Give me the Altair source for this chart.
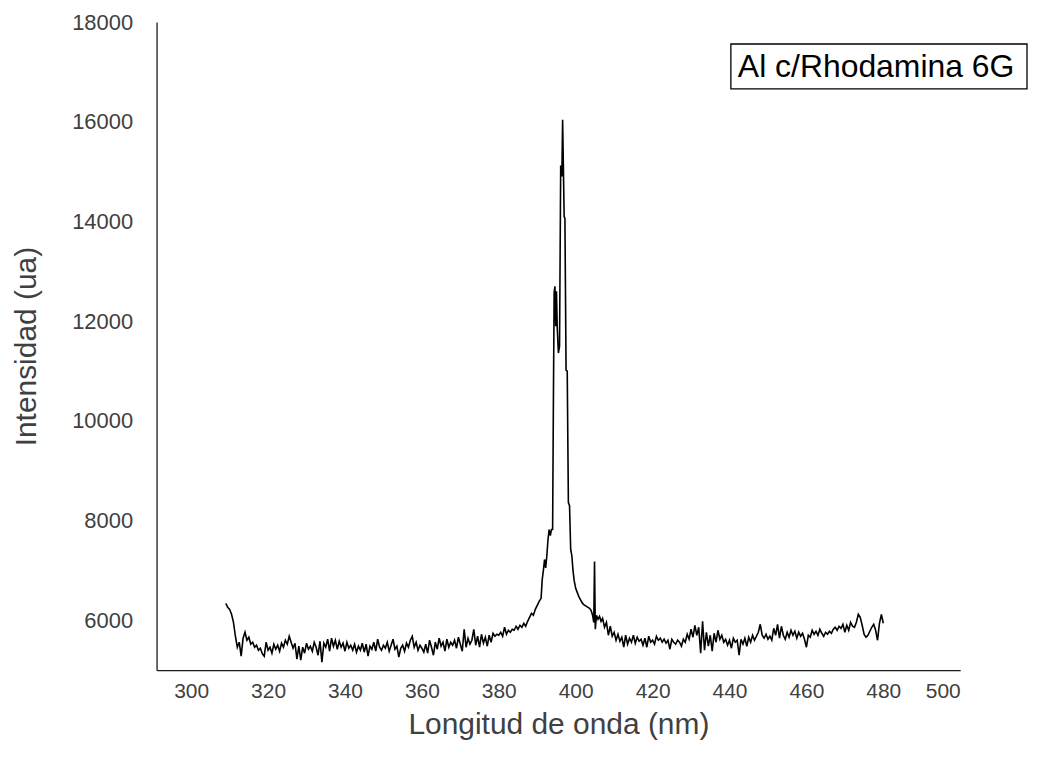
import altair as alt
import pandas as pd

# ---- data ----
wl_a = [309.0, 309.5, 310.0, 310.5, 311.0, 311.5, 312.0, 312.5, 313.0, 313.5, 314.0, 314.5,
        315.0, 315.5, 316.0, 316.5, 317.0, 317.5, 318.0, 318.5, 319.0, 319.5, 320.0, 320.5,
        321.0, 321.5, 322.0, 322.5, 323.0, 323.5, 324.0, 324.5, 325.0, 325.5, 326.0, 326.5,
        327.0, 327.5, 328.0, 328.5, 329.0, 329.5, 330.0, 330.5, 331.0, 331.5, 332.0, 332.5,
        333.0, 333.5, 334.0, 334.5, 335.0, 335.5, 336.0, 336.5, 337.0, 337.5, 338.0, 338.5,
        339.0, 339.5, 340.0, 340.5, 341.0, 341.5, 342.0, 342.5, 343.0, 343.5, 344.0, 344.5,
        345.0]
in_a = [6340, 6260, 6220, 6120, 5960, 5680, 5460, 5560, 5280, 5640, 5760, 5600,
        5660, 5520, 5560, 5460, 5500, 5400, 5440, 5330, 5280, 5560, 5400, 5460,
        5340, 5520, 5420, 5500, 5380, 5540, 5460, 5600, 5520, 5680, 5560, 5440,
        5540, 5220, 5480, 5200, 5460, 5340, 5540, 5420, 5480, 5380, 5560, 5460,
        5300, 5580, 5160, 5540, 5460, 5620, 5380, 5640, 5480, 5600, 5420, 5580,
        5460, 5540, 5380, 5560, 5440, 5500, 5400, 5520, 5360, 5480, 5400, 5540,
        5360]

wl_b = [345.5, 346.0, 346.5, 347.0, 347.5, 348.0, 348.5, 349.0, 349.5, 350.0, 350.5, 351.0,
        351.5, 352.0, 352.5, 353.0, 353.5, 354.0, 354.5, 355.0, 355.5, 356.0, 356.5, 357.0,
        357.5, 358.0, 358.5, 359.0, 359.5, 360.0, 360.5, 361.0, 361.5, 362.0, 362.5, 363.0,
        363.5, 364.0, 364.5, 365.0, 365.5, 366.0, 366.5, 367.0, 367.5, 368.0, 368.5, 369.0,
        369.5, 370.0, 370.5, 371.0, 371.5, 372.0, 372.5, 373.0, 373.5, 374.0, 374.5, 375.0,
        375.5, 376.0, 376.5, 377.0, 377.5, 378.0, 378.5, 379.0, 379.5, 380.0, 380.5, 381.0,
        381.5, 382.0, 382.5, 383.0, 383.5, 384.0, 384.5, 385.0, 385.5, 386.0, 386.5, 387.0,
        387.5, 388.0, 388.5, 389.0, 389.5, 390.0, 390.5]
in_b = [5520, 5280, 5480, 5420, 5560, 5380, 5620, 5460, 5400, 5500, 5440, 5560,
        5380, 5500, 5620, 5420, 5480, 5260, 5440, 5500, 5380, 5540, 5460, 5600,
        5680, 5460, 5560, 5400, 5500, 5440, 5360, 5520, 5340, 5600, 5460, 5300,
        5560, 5420, 5640, 5480, 5560, 5380, 5620, 5460, 5560, 5500, 5600, 5440,
        5660, 5520, 5380, 5820, 5460, 5640, 5520, 5600, 5820, 5500, 5680, 5460,
        5720, 5540, 5660, 5480, 5700, 5560, 5740, 5680, 5720, 5700, 5760, 5680,
        5860, 5720, 5800, 5760, 5820, 5800, 5880, 5820, 5900, 5860, 5940, 5880,
        5980, 6060, 6140, 6100, 6220, 6300, 6380]

# peak region (Al lines)
wl_peak = [391.0, 391.3, 391.6, 391.9, 392.2, 392.5, 392.8, 393.1, 393.4, 393.7, 394.0, 394.2,
           394.4, 394.6, 394.8, 395.0, 395.2, 395.5, 395.8, 396.1, 396.4, 396.6, 396.8, 397.0,
           397.2, 397.5, 397.8, 398.1, 398.4, 398.7, 399.0, 399.3, 399.6]
in_peak = [6440, 6820, 7000, 7220, 7050, 7300, 7620, 7820, 7700, 7820, 7820, 10360,
           12580, 12700, 11900, 12600, 11880, 11360, 11500, 15120, 14900, 16040, 15100, 14100,
           14060, 11020, 11000, 8360, 8300, 7420, 7300, 7000, 6800]

wl_c = [400.0, 400.4, 400.8, 401.2, 401.6, 402.0, 402.4, 402.8, 403.2, 403.6, 404.0, 404.4,
        404.7, 404.9, 405.1, 405.4, 405.8, 406.2, 406.6, 407.0, 407.5, 408.0, 408.5, 409.0,
        409.5, 410.0, 410.5, 411.0, 411.5, 412.0, 412.5, 413.0, 413.5, 414.0, 414.5, 415.0,
        415.5, 416.0, 416.5, 417.0, 417.5, 418.0, 418.5, 419.0, 419.5, 420.0, 420.5, 421.0,
        421.5, 422.0, 422.5, 423.0, 423.5, 424.0, 424.5, 425.0, 425.5, 426.0, 426.5, 427.0,
        427.5, 428.0, 428.5, 429.0, 429.5, 430.0, 430.5, 431.0, 431.5, 432.0, 432.5, 433.0,
        433.5, 434.0, 434.5, 435.0, 435.5, 436.0, 436.5, 437.0, 437.5, 438.0, 438.5, 439.0,
        439.5, 440.0]
in_c = [6640, 6560, 6480, 6420, 6360, 6320, 6300, 6280, 6260, 6240, 6200, 6100,
        5960, 7180, 5820, 6100, 6020, 6080, 5980, 6040, 5860, 5960, 5700, 5880,
        5680, 5760, 5600, 5720, 5580, 5660, 5460, 5700, 5520, 5640, 5560, 5700,
        5540, 5660, 5580, 5620, 5500, 5640, 5460, 5680, 5560, 5600, 5520, 5680,
        5600, 5640, 5560, 5620, 5540, 5600, 5420, 5620, 5560, 5520, 5600, 5560,
        5480, 5620, 5560, 5720, 5620, 5820, 5660, 5900, 5700, 5860, 5340, 5980,
        5400, 5760, 5480, 5700, 5380, 5740, 5560, 5800, 5620, 5700, 5560, 5620,
        5500, 5600]

wl_d = [440.5, 441.0, 441.5, 442.0, 442.5, 443.0, 443.5, 444.0, 444.5, 445.0, 445.5, 446.0,
        446.5, 447.0, 447.5, 448.0, 448.5, 449.0, 449.5, 450.0, 450.5, 451.0, 451.5, 452.0,
        452.5, 453.0, 453.5, 454.0, 454.5, 455.0, 455.5, 456.0, 456.5, 457.0, 457.5, 458.0,
        458.5, 459.0, 459.5, 460.0, 460.5, 461.0, 461.5, 462.0, 462.5, 463.0, 463.5, 464.0,
        464.5, 465.0, 465.5, 466.0, 466.5, 467.0, 467.5, 468.0, 468.5, 469.0, 469.5, 470.0,
        470.5, 471.0, 471.5, 472.0, 472.5, 473.0, 473.5, 474.0, 474.5, 475.0, 475.5, 476.0,
        476.5, 477.0, 477.5, 478.0, 478.5, 479.0, 479.5, 480.0]
in_d = [5440, 5640, 5560, 5600, 5300, 5620, 5520, 5640, 5480, 5660, 5560, 5700,
        5600, 5680, 5760, 5920, 5700, 5640, 5720, 5620, 5680, 5600, 5840, 5700,
        5920, 5640, 5880, 5700, 5620, 5760, 5660, 5800, 5700, 5780, 5640, 5760,
        5680, 5740, 5620, 5460, 5700, 5660, 5800, 5720, 5780, 5700, 5820, 5740,
        5680, 5760, 5720, 5780, 5740, 5820, 5860, 5800, 5880, 5840, 5920, 5760,
        5900, 5800, 5960, 5880, 5860, 5960, 6120, 6060, 5900, 5720, 5660, 5700,
        5780, 5860, 5920, 5800, 5600, 5940, 6120, 5940]

x_ticks = [300, 320, 340, 360, 380, 400, 420, 440, 460, 480, 500]
y_ticks = [6000, 8000, 10000, 12000, 14000, 16000, 18000]
legend_label = "Al c/Rhodamina 6G"

df = pd.DataFrame({
    "nm": wl_a + wl_b + wl_peak + wl_c + wl_d,
    "intensidad": in_a + in_b + in_peak + in_c + in_d,
})

FONT = "Liberation Sans"
TXT = "#404040"

line = alt.Chart(df).mark_line(color="black", strokeWidth=1.6, clip=True).encode(
    x=alt.X("nm:Q",
            scale=alt.Scale(domain=[291, 500], nice=False, zero=False),
            axis=alt.Axis(values=x_ticks, ticks=False, grid=False, domainColor="#1a1a1a",
                          domainWidth=1.3, labelFontSize=21, labelColor=TXT, labelPadding=10,
                          labelFont=FONT, format="d",
                          title="Longitud de onda (nm)", titleFont=FONT,
                          titleFontSize=30, titleFontWeight="normal", titleColor=TXT,
                          titleBaseline="alphabetic", titleY=64)),
    y=alt.Y("intensidad:Q",
            scale=alt.Scale(domain=[5000, 18000], nice=False, zero=False),
            axis=alt.Axis(values=y_ticks, ticks=False, grid=False, domainColor="#1a1a1a",
                          domainWidth=1.3, labelFontSize=22, labelColor=TXT, labelPadding=24,
                          labelFont=FONT, format="d",
                          title="Intensidad (ua)", titleFont=FONT,
                          titleFontSize=30, titleFontWeight="normal", titleColor=TXT,
                          titleBaseline="alphabetic", titleX=-121)),
)

legend_df = pd.DataFrame({"label": [legend_label]})
box = alt.Chart(legend_df).mark_rect(fill="white", stroke="black", strokeWidth=1.3).encode(
    x=alt.value(576), x2=alt.value(873), y=alt.value(22), y2=alt.value(67))
txt = alt.Chart(legend_df).mark_text(align="left", baseline="middle", font=FONT,
                                     fontSize=32, color="black").encode(
    x=alt.value(583), y=alt.value(45), text="label:N")

chart = alt.layer(line, box, txt).properties(
    width=806, height=650,
    background="white",
    autosize=alt.AutoSizeParams(type="none"),
    padding={"left": 149, "top": 13, "right": 70, "bottom": 80},
).configure_view(stroke="transparent", strokeWidth=0)

chart.save("out.html", embed_options={"renderer": "svg", "actions": False})
